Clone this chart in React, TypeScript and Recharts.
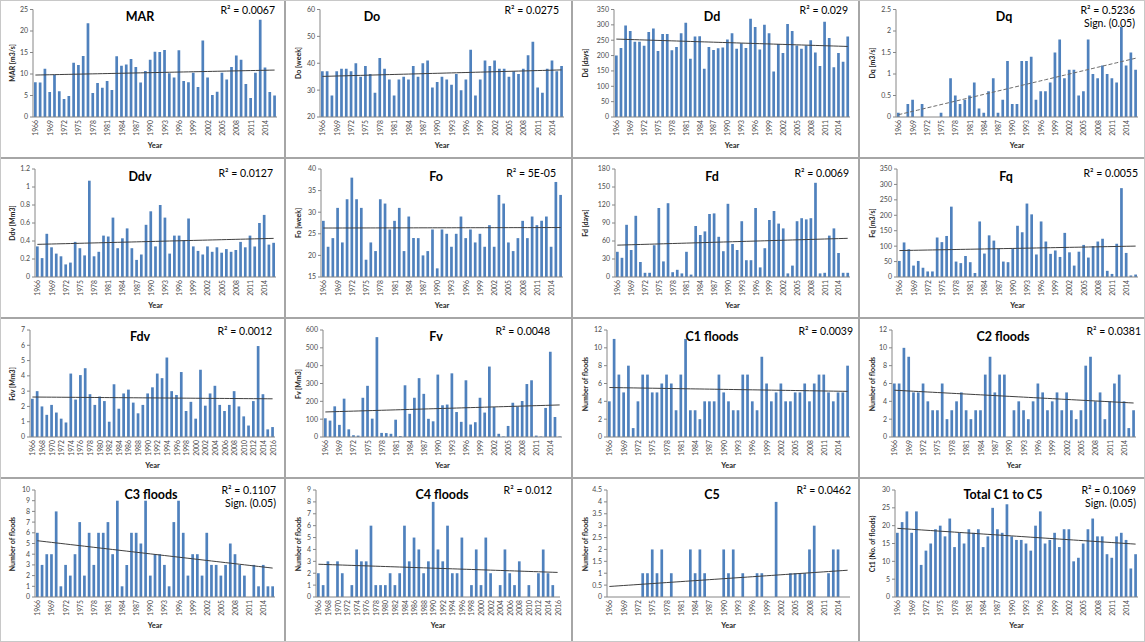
import React from 'react';
import { ComposedChart, Bar, Line, XAxis, YAxis } from 'recharts';

const years = [
  '1966', '1967', '1968', '1969', '1970', '1971', '1972', '1973', '1974', '1975',
  '1976', '1977', '1978', '1979', '1980', '1981', '1982', '1983', '1984', '1985',
  '1986', '1987', '1988', '1989', '1990', '1991', '1992', '1993', '1994', '1995',
  '1996', '1997', '1998', '1999', '2000', '2001', '2002', '2003', '2004', '2005',
  '2006', '2007', '2008', '2009', '2010', '2011', '2012', '2013', '2014', '2015', '2016',
];

const marValues = [8.1, 8.0, 11.2, 5.8, 9.8, 6.0, 4.2, 4.9, 12.6, 12.1, 14.2, 21.8, 5.6, 7.9, 6.8, 8.4, 6.3, 14.1, 11.9, 12.2, 13.5, 11.6, 8.0, 10.7, 13.3, 15.2, 15.1, 15.6, 10.2, 9.2, 15.5, 8.4, 8.1, 10.3, 7.0, 17.8, 9.2, 5.1, 5.9, 10.3, 8.7, 11.6, 14.3, 13.3, 7.7, 4.4, 10.3, 22.6, 11.5, 5.8, 5.0];
const doValues = [37, 37, 28, 37, 38, 38, 37, 40, 35, 39, 36, 29, 42, 38, 34, 28, 34, 35, 34, 39, 35, 40, 41, 31, 33, 35, 34, 32, 36, 30, 34, 45, 28, 34, 41, 39, 41, 38, 38, 35, 37, 36, 38, 43, 48, 31, 29, 38, 41, 37, 39];
const ddValues = [200, 225, 298, 280, 245, 245, 232, 277, 288, 215, 270, 270, 217, 228, 273, 307, 190, 262, 263, 157, 228, 218, 224, 226, 252, 273, 222, 240, 225, 320, 293, 220, 300, 273, 148, 238, 208, 303, 280, 233, 222, 233, 250, 210, 166, 310, 257, 162, 208, 180, 262];
const dqValues = [0.1, 0, 0.3, 0.4, 0, 0.3, 0, 0, 0, 0.1, 0, 0.9, 0.5, 0.3, 0.4, 0.5, 0.8, 0.2, 0.1, 0.6, 0.9, 0.1, 0.4, 1.3, 0.3, 0.3, 1.3, 1.3, 1.4, 0.4, 0.6, 0.6, 0.8, 1.5, 1.8, 0.9, 1.1, 1.1, 0.5, 0.6, 1.8, 1.0, 0.9, 1.2, 1.0, 0.9, 0.8, 2.1, 1.2, 1.5, 1.1];
const ddvValues = [0.34, 0.21, 0.48, 0.33, 0.26, 0.23, 0.14, 0.16, 0.39, 0.32, 0.24, 1.07, 0.23, 0.28, 0.46, 0.45, 0.66, 0.32, 0.43, 0.54, 0.32, 0.19, 0.25, 0.58, 0.73, 0.34, 0.8, 0.66, 0.26, 0.46, 0.46, 0.41, 0.65, 0.34, 0.29, 0.25, 0.34, 0.28, 0.33, 0.27, 0.31, 0.28, 0.3, 0.39, 0.33, 0.46, 0.34, 0.6, 0.69, 0.36, 0.38];
const foValues = [28, 22, 24, 31, 23, 33, 38, 33, 31, 19, 23, 21, 33, 32, 26, 28, 31, 21, 29, 24, 24, 20, 21, 26, 17, 26, 25, 22, 25, 29, 24, 26, 23, 25, 22, 27, 22, 34, 32, 23, 21, 24, 28, 24, 29, 27, 28, 29, 22, 37, 34];
const fdValues = [42, 32, 87, 45, 102, 25, 7, 7, 53, 115, 26, 123, 8, 12, 6, 42, 4, 85, 70, 76, 105, 106, 67, 43, 122, 55, 45, 93, 28, 28, 115, 16, 48, 95, 110, 89, 81, 6, 19, 93, 98, 96, 98, 157, 6, 7, 69, 81, 40, 7, 7];
const fqValues = [52, 112, 90, 37, 52, 30, 18, 18, 128, 113, 133, 228, 50, 45, 68, 48, 13, 180, 76, 135, 118, 93, 50, 48, 92, 166, 145, 238, 203, 73, 180, 115, 75, 86, 65, 143, 80, 37, 82, 104, 63, 100, 115, 124, 20, 10, 108, 288, 78, 5, 8];
const fdvValues = [2.5, 3.0, 2.0, 1.45, 2.1, 1.6, 1.2, 0.95, 4.15, 2.45, 4.05, 4.5, 2.8, 2.1, 2.65, 2.35, 1.0, 3.45, 1.85, 2.85, 3.1, 2.25, 1.55, 2.1, 2.85, 3.25, 4.15, 3.85, 5.2, 3.0, 2.75, 4.25, 1.7, 2.3, 1.2, 4.4, 2.05, 2.85, 3.35, 2.1, 1.7, 2.1, 3.0, 2.0, 1.35, 0.75, 2.35, 5.95, 2.8, 0.5, 0.65];
const fvValues = [105, 92, 172, 68, 215, 43, 10, 8, 220, 287, 103, 560, 23, 22, 18, 97, 5, 290, 130, 220, 330, 242, 102, 88, 350, 178, 182, 357, 140, 85, 318, 70, 83, 220, 137, 395, 168, 18, 3, 62, 192, 172, 202, 297, 318, 8, 3, 163, 478, 112, 3];
const c1Values = [4, 11, 7, 5, 8, 1, 4, 7, 7, 5, 5, 6, 7, 6, 3, 7, 11, 3, 3, 2, 4, 4, 4, 7, 5, 4, 3, 3, 7, 7, 4, 3, 9, 6, 4, 5, 6, 4, 4, 5, 5, 6, 4, 6, 7, 7, 5, 4, 5, 5, 8];
const c2Values = [6, 6, 10, 9, 5, 5, 6, 4, 3, 3, 6, 2, 3, 4, 5, 3, 2, 3, 3, 7, 9, 5, 7, 7, 0, 3, 4, 3, 2, 4, 6, 5, 3, 4, 5, 3, 5, 3, 2, 3, 8, 9, 4, 5, 2, 4, 6, 7, 4, 1, 3];
const c3Values = [6, 3, 4, 4, 8, 1, 3, 2, 4, 7, 2, 6, 3, 6, 6, 7, 4, 9, 1, 3, 6, 6, 5, 9, 2, 4, 4, 3, 1, 7, 9, 6, 2, 4, 4, 2, 6, 3, 3, 2, 3, 5, 4, 3, 2, 0, 3, 1, 3, 1, 1];
const c4Values = [2, 1, 3, 0, 3, 2, 0, 1, 4, 3, 3, 6, 1, 1, 1, 2, 1, 2, 6, 3, 5, 4, 2, 3, 8, 4, 3, 6, 2, 2, 5, 0, 1, 4, 1, 5, 2, 0, 1, 4, 2, 1, 3, 0, 1, 0, 2, 4, 2, 1, 0];
const c5Values = [0, 0, 0, 0, 0, 0, 0, 1, 1, 2, 1, 2, 0, 1, 0, 0, 0, 2, 1, 2, 1, 0, 0, 0, 2, 1, 2, 0, 1, 0, 0, 1, 1, 0, 0, 4, 0, 0, 1, 1, 1, 1, 2, 3, 0, 0, 1, 2, 2, 0, 0];
const totalValues = [18, 21, 24, 18, 24, 9, 13, 15, 19, 20, 17, 22, 14, 18, 15, 19, 18, 19, 14, 17, 25, 19, 18, 26, 17, 16, 16, 15, 13, 20, 24, 15, 16, 18, 14, 19, 19, 10, 11, 15, 19, 22, 17, 17, 12, 11, 17, 18, 16, 8, 12];

const FONT = 'Lato, "Liberation Sans", Arial, sans-serif';

const colLefts = [0, 286, 573, 860];
const colWidths = [284, 285, 285, 285];
const rowTops = [0, 159, 319, 479];
const rowHeights = [157, 158, 158, 163];
const rowPlot = [
  { top: 9.5, bottom: 117, titleY: 16, r2Y: 10, yearY: 145 },
  { top: 10, bottom: 118, titleY: 17, r2Y: 14, yearY: 146 },
  { top: 11, bottom: 118, titleY: 17, r2Y: 12, yearY: 146 },
  { top: 11, bottom: 118, titleY: 15, r2Y: 11, yearY: 146 },
];

type PanelCfg = {
  title: string;
  yLabel: string;
  values: number[];
  domain: [number, number];
  ticks: number[];
  r2: string;
  sign?: boolean;
  dashed?: boolean;
  left: number;
  right: number;
  titleX: number;
  r2Right: number;
  interval: number;
};

const panels: PanelCfg[] = [
  { title: 'MAR', yLabel: 'MAR [m3/s]', values: marValues, domain: [0, 25], ticks: [0, 5, 10, 15, 20, 25], r2: 'R² = 0.0067', left: 33, right: 277, titleX: 140, r2Right: 275, interval: 2 },
  { title: 'Do', yLabel: 'Do [week]', values: doValues, domain: [20, 60], ticks: [20, 30, 40, 50, 60], r2: 'R² = 0.0275', left: 34, right: 278, titleX: 86, r2Right: 273, interval: 2 },
  { title: 'Dd', yLabel: 'Dd [days]', values: ddValues, domain: [0, 350], ticks: [0, 50, 100, 150, 200, 250, 300, 350], r2: 'R² = 0.029', left: 41, right: 277, titleX: 139, r2Right: 275, interval: 2 },
  { title: 'Dq', yLabel: 'Dq [m3/s]', values: dqValues, domain: [0, 2.5], ticks: [0, 0.5, 1, 1.5, 2, 2.5], r2: 'R² = 0.5236', sign: true, dashed: true, left: 36, right: 278, titleX: 144, r2Right: 275, interval: 2 },
  { title: 'Ddv', yLabel: 'Ddv [Mm3]', values: ddvValues, domain: [0, 1.2], ticks: [0, 0.2, 0.4, 0.6, 0.8, 1, 1.2], r2: 'R² = 0.0127', left: 35, right: 276, titleX: 140, r2Right: 273, interval: 2 },
  { title: 'Fo', yLabel: 'Fo [week]', values: foValues, domain: [15, 40], ticks: [15, 20, 25, 30, 35, 40], r2: 'R² = 5E-05', left: 35, right: 277, titleX: 150, r2Right: 270, interval: 2 },
  { title: 'Fd', yLabel: 'Fd [days]', values: fdValues, domain: [0, 180], ticks: [0, 30, 60, 90, 120, 150, 180], r2: 'R² = 0.0069', left: 42, right: 277, titleX: 139, r2Right: 276, interval: 2 },
  { title: 'Fq', yLabel: 'Fq [m3/s]', values: fqValues, domain: [0, 350], ticks: [0, 50, 100, 150, 200, 250, 300, 350], r2: 'R² = 0.0055', left: 37, right: 278, titleX: 146, r2Right: 278, interval: 2 },
  { title: 'Fdv', yLabel: 'Fdv [Mm3]', values: fdvValues, domain: [0, 7], ticks: [0, 1, 2, 3, 4, 5, 6, 7], r2: 'R² = 0.0012', left: 30, right: 275, titleX: 140, r2Right: 272, interval: 1 },
  { title: 'Fv', yLabel: 'Fv [Mm3]', values: fvValues, domain: [0, 600], ticks: [0, 100, 200, 300, 400, 500, 600], r2: 'R² = 0.0048', left: 37, right: 276, titleX: 150, r2Right: 264, interval: 2 },
  { title: 'C1 floods', yLabel: 'Number of floods', values: c1Values, domain: [0, 12], ticks: [0, 2, 4, 6, 8, 10, 12], r2: 'R² = 0.0039', left: 34, right: 277, titleX: 139, r2Right: 280, interval: 2 },
  { title: 'C2 floods', yLabel: 'Number of floods', values: c2Values, domain: [0, 12], ticks: [0, 2, 4, 6, 8, 10, 12], r2: 'R² = 0.0381', left: 32, right: 276, titleX: 143, r2Right: 281, interval: 2 },
  { title: 'C3 floods', yLabel: 'Number of floods', values: c3Values, domain: [0, 10], ticks: [0, 1, 2, 3, 4, 5, 6, 7, 8, 9, 10], r2: 'R² = 0.1107', sign: true, left: 35, right: 275, titleX: 151, r2Right: 276, interval: 2 },
  { title: 'C4 floods', yLabel: 'Number of floods', values: c4Values, domain: [0, 9], ticks: [0, 1, 2, 3, 4, 5, 6, 7, 8, 9], r2: 'R² = 0.012', left: 30, right: 274, titleX: 156, r2Right: 266, interval: 1 },
  { title: 'C5', yLabel: 'Number of floods', values: c5Values, domain: [0, 4.5], ticks: [0, 0.5, 1, 1.5, 2, 2.5, 3, 3.5, 4, 4.5], r2: 'R² = 0.0462', left: 34, right: 277, titleX: 139, r2Right: 278, interval: 2 },
  { title: 'Total C1 to C5', yLabel: 'Ct1 (No. of floods)', values: totalValues, domain: [0, 30], ticks: [0, 5, 10, 15, 20, 25, 30], r2: 'R² = 0.1069', sign: true, left: 35, right: 278, titleX: 143, r2Right: 276, interval: 2 },
];

function linearTrend(values: number[]): number[] {
  const n = values.length;
  let sx = 0, sy = 0, sxx = 0, sxy = 0;
  values.forEach((v, i) => { sx += i; sy += v; sxx += i * i; sxy += i * v; });
  const slope = (n * sxy - sx * sy) / (n * sxx - sx * sx);
  const intercept = (sy - slope * sx) / n;
  return values.map((_, i) => intercept + slope * i);
}

const XTick = (props: any) => {
  const { x, y, payload } = props;
  return (
    <text x={x} y={y} transform={`rotate(-90 ${x} ${y})`} textAnchor="end" dominantBaseline="central" fontSize={6.8} fill="#4a4a4a" fontFamily={FONT}>
      {payload.value}
    </text>
  );
};

function Panel({ cfg, x, y, w, h, rp }: { cfg: PanelCfg; x: number; y: number; w: number; h: number; rp: typeof rowPlot[number] }) {
  const trend = linearTrend(cfg.values);
  const data = years.map((yr, i) => ({ year: yr, v: cfg.values[i], t: trend[i] }));
  const plotMid = (rp.top + rp.bottom) / 2;
  const plotCenterX = (cfg.left + cfg.right) / 2;
  return (
    <div style={{ position: 'absolute', left: x, top: y, width: w, height: h, overflow: 'hidden' }}>
      <ComposedChart width={w} height={h} data={data} margin={{ top: rp.top, right: w - cfg.right, bottom: 0, left: 0 }} barCategoryGap="20%">
        <XAxis dataKey="year" interval={cfg.interval} tick={<XTick />} tickLine={false} tickSize={0} tickMargin={3} axisLine={{ stroke: '#868686' }} height={h - rp.bottom} />
        <YAxis type="number" domain={cfg.domain} ticks={cfg.ticks} interval={0} allowDataOverflow width={cfg.left} tick={{ fontSize: 7, fill: '#4a4a4a', fontFamily: FONT }} tickLine={{ stroke: '#868686' }} tickSize={3} tickMargin={2} axisLine={{ stroke: '#868686' }} />
        <Bar dataKey="v" fill="#4F81BD" barSize={2.7} isAnimationActive={false} />
        <Line dataKey="t" type="linear" stroke={cfg.dashed ? '#6b6b6b' : '#3f3f3f'} strokeWidth={1} strokeDasharray={cfg.dashed ? '4 2' : undefined} dot={false} activeDot={false} isAnimationActive={false} />
      </ComposedChart>
      <div style={{ position: 'absolute', left: cfg.titleX, top: rp.titleY, transform: 'translate(-50%, -50%)', fontFamily: FONT, fontWeight: 700, fontSize: 12.5, color: '#000', whiteSpace: 'nowrap' }}>{cfg.title}</div>
      <div style={{ position: 'absolute', right: w - cfg.r2Right, top: rp.r2Y, transform: 'translateY(-50%)', fontFamily: FONT, fontSize: 10.5, color: '#000', whiteSpace: 'nowrap' }}>{cfg.r2}</div>
      {cfg.sign && (
        <div style={{ position: 'absolute', right: w - cfg.r2Right, top: rp.r2Y + 13, transform: 'translateY(-50%)', fontFamily: FONT, fontSize: 10.5, color: '#000', whiteSpace: 'nowrap' }}>Sign. (0.05)</div>
      )}
      <div style={{ position: 'absolute', left: 12, top: plotMid, transform: 'translate(-50%, -50%) rotate(-90deg)', fontFamily: FONT, fontWeight: 700, fontSize: 7, color: '#262626', whiteSpace: 'nowrap' }}>{cfg.yLabel}</div>
      <div style={{ position: 'absolute', left: plotCenterX, top: rp.yearY, transform: 'translate(-50%, -50%)', fontFamily: FONT, fontWeight: 700, fontSize: 7.5, color: '#262626', whiteSpace: 'nowrap' }}>Year</div>
    </div>
  );
}

export default function App() {
  return (
    <div style={{ position: 'absolute', left: 0, top: 0, width: 1145, height: 642, background: '#ffffff', overflow: 'hidden' }}>
      {panels.map((cfg, i) => {
        const r = Math.floor(i / 4);
        const c = i % 4;
        return <Panel key={cfg.title} cfg={cfg} x={colLefts[c]} y={rowTops[r]} w={colWidths[c]} h={rowHeights[r]} rp={rowPlot[r]} />;
      })}
      {[284, 571, 858].map((vx) => (
        <div key={'v' + vx} style={{ position: 'absolute', left: vx, top: 0, width: 2, height: 642, background: '#a6a6a6' }} />
      ))}
      {[157, 317, 477].map((hy) => (
        <div key={'h' + hy} style={{ position: 'absolute', left: 0, top: hy, width: 1145, height: 2, background: '#a6a6a6' }} />
      ))}
      <div style={{ position: 'absolute', left: 0, top: 0, width: 1143, height: 640, border: '1px solid #c8c8c8' }} />
    </div>
  );
}
